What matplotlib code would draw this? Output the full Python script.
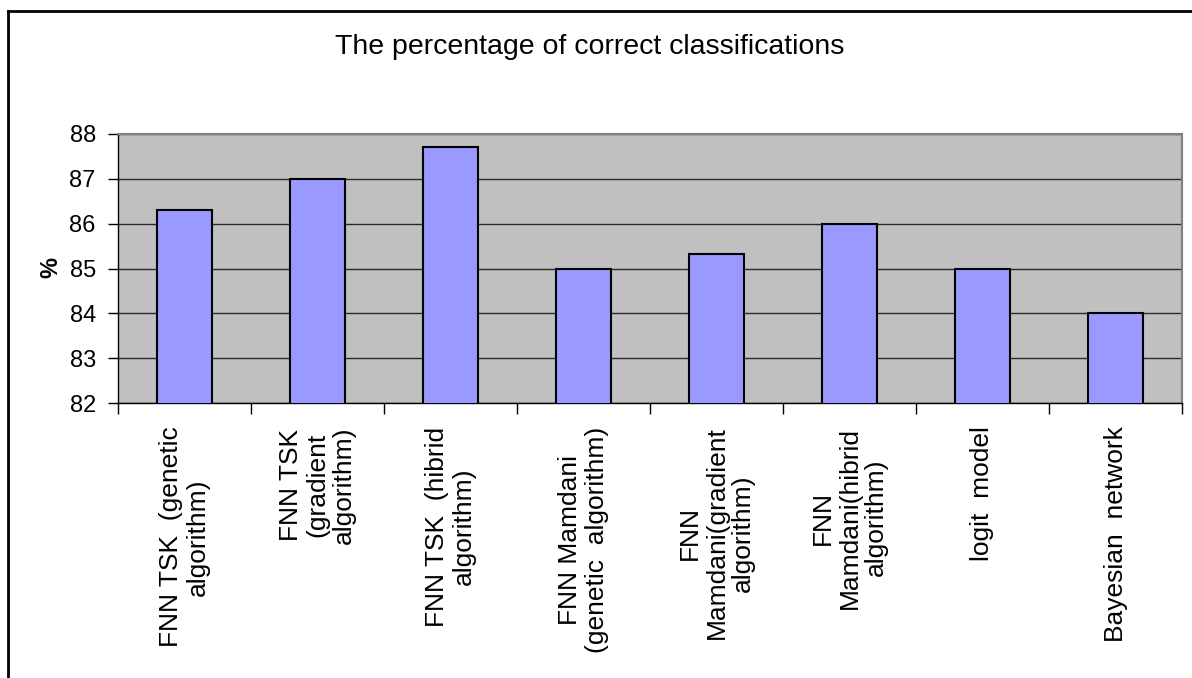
import numpy as np
import matplotlib as mpl
mpl.use('Agg')
import matplotlib.pyplot as plt
from matplotlib.lines import Line2D

categories = [
    'FNN TSK  (genetic\nalgorithm)',
    'FNN TSK\n(gradient\nalgorithm)',
    'FNN TSK  (hibrid\nalgorithm)',
    'FNN Mamdani\n(genetic  algorithm)',
    'FNN\nMamdani(gradient\nalgorithm)',
    'FNN\nMamdani(hibrid\nalgorithm)',
    'logit  model',
    'Bayesian  network',
]
values = [86.3, 87.0, 87.7, 85.0, 85.33, 86.0, 85.0, 84.0]
y_ticks = [82, 83, 84, 85, 86, 87, 88]

plt.rcParams['font.family'] = ['Liberation Sans', 'DejaVu Sans']

W, H = 1192, 678
fig = plt.figure(figsize=(W / 100, H / 100), dpi=100)
fig.patch.set_facecolor('white')

# plot area in pixels: x 118..1182, y 134..403
ax = fig.add_axes([118 / W, 1 - 403 / H, (1182 - 118) / W, (403 - 134) / H])
ax.set_facecolor('#C0C0C0')

x = np.arange(len(values))
ax.bar(x, values, width=0.41, color='#9999FF', edgecolor='black', linewidth=1.5, zorder=3)

ax.set_ylim(82, 88)
ax.set_xlim(-0.5, len(values) - 0.5)
ax.set_yticks(y_ticks)
ax.yaxis.grid(True, color='#2a2a2a', linewidth=1)
ax.set_axisbelow(True)

ax.set_xticks(x)
ax.set_xticklabels(categories, rotation=90, ha='center', va='top',
                   multialignment='center', fontsize=19, linespacing=1.15)
ax.set_xticks(np.arange(len(values) + 1) - 0.5, minor=True)
ax.tick_params(axis='x', which='major', length=0, pad=17)
ax.tick_params(axis='x', which='minor', length=8, width=1, color='black', direction='out')
ax.tick_params(axis='y', length=7, width=1, color='black', direction='out', labelsize=17, pad=9)

for s in ['top', 'right']:
    ax.spines[s].set_color('#808080')
    ax.spines[s].set_linewidth(1.5)
for s in ['left', 'bottom']:
    ax.spines[s].set_color('black')
    ax.spines[s].set_linewidth(1)

fig.text(0.495, 1 - 47 / H, 'The percentage of correct classifications',
         ha='center', va='center', fontsize=20.5)
fig.text(51 / W, 1 - 268 / H, '%', rotation=90, ha='center', va='center',
         fontsize=17, fontweight='bold')

# outer chart border (right and bottom sides are cut off in the original)
fig.add_artist(Line2D([8 / W, 8 / W], [0, 1 - 11 / H], transform=fig.transFigure,
                      color='black', linewidth=2))
fig.add_artist(Line2D([8 / W, 1], [1 - 11 / H, 1 - 11 / H], transform=fig.transFigure,
                      color='black', linewidth=2))

fig.savefig('out.png', dpi=100)
